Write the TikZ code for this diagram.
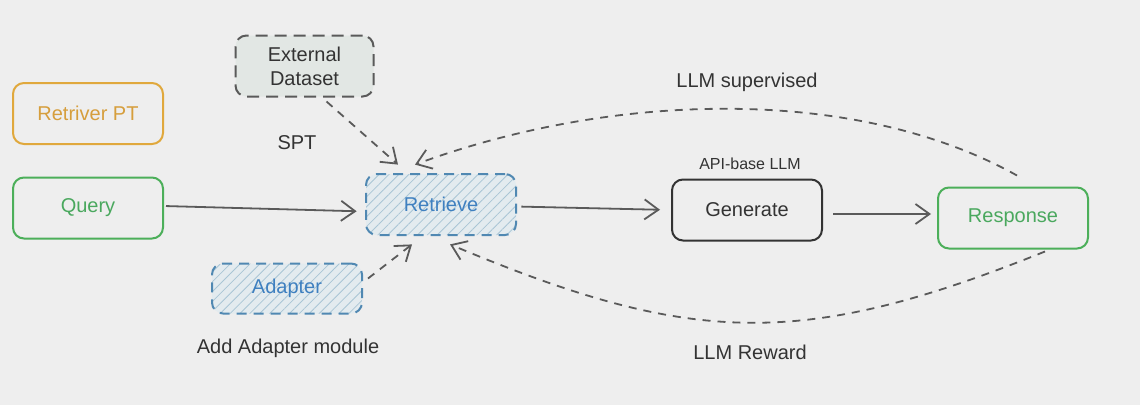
\documentclass[tikz,border=0pt]{standalone}
\usepackage{fontspec}
\setmainfont{Liberation Sans}
\usetikzlibrary{arrows.meta,patterns.meta,calc}
\definecolor{bgc}{HTML}{EEEEEE}
\definecolor{orangec}{HTML}{E0A83C}
\definecolor{orangetxt}{HTML}{D69E3C}
\definecolor{greenc}{HTML}{4CAF5A}
\definecolor{greentxt}{HTML}{4AA85E}
\definecolor{bluec}{HTML}{5088B2}
\definecolor{bluetxt}{HTML}{3F80C0}
\definecolor{hatchc}{HTML}{A9C5D5}
\definecolor{hatchbg}{HTML}{E3EBEF}
\definecolor{extfill}{HTML}{E2E7E4}
\definecolor{grayc}{HTML}{5A5A5A}
\definecolor{darkc}{HTML}{333333}
\tikzset{
  box/.style={rectangle, rounded corners=11pt, line width=2pt, minimum width=150pt, minimum height=61pt, font=\fontsize{20}{22}\selectfont, align=center, inner sep=2pt},
  hatched/.style={box, draw=bluec, dash pattern=on 10pt off 7pt, text=bluetxt,
    preaction={fill=hatchbg},
    pattern={Lines[angle=45,distance=7pt,line width=0.8pt]}, pattern color=hatchc},
  lbl/.style={font=\fontsize{20}{22}\selectfont, text=darkc, inner sep=0pt},
  arr/.style={draw=grayc, line width=1.8pt, -{Straight Barb[length=14pt,width=20pt,line width=1.8pt]}},
  darr/.style={arr, dash pattern=on 8pt off 7pt},
}
\begin{document}
\begin{tikzpicture}[x=1pt,y=-1pt]
\fill[bgc] (0,0) rectangle (1140,405);
\useasboundingbox (0,0) rectangle (1140,405);

\node[box, draw=orangec, text=orangetxt] (pt) at (88,113.5) {Retriver PT};
\node[box, draw=greenc, text=greentxt] (q) at (88,208) {Query};
\node[box, draw=grayc, fill=extfill, dash pattern=on 12pt off 7pt, text=darkc, minimum width=138pt, minimum height=61pt, font=\fontsize{20}{24}\selectfont] (ext) at (304.5,66) {External\\Dataset};
\node[hatched] (r) at (441,204.5) {Retrieve};
\node[hatched, minimum height=50pt] (ad) at (287,288.5) {Adapter};
\node[box, draw=darkc, text=darkc] (g) at (747,210) {Generate};
\node[box, draw=greenc, text=greentxt] (resp) at (1013,218) {Response};

\node[lbl] (spt) at (297,143) {SPT};
\node[lbl] (addl) at (288,348) {Add Adapter module};
\node[lbl, font=\fontsize{16}{18}\selectfont] (api) at (750,164) {API-base LLM};
\node[lbl] (sup) at (747,82) {LLM supervised};
\node[lbl] (rew) at (750,352) {LLM Reward};

\draw[arr, shorten <=2pt, shorten >=9pt] ([yshift=2pt]q.east) -- ([yshift=-7pt]r.west);
\draw[arr, shorten <=5pt, shorten >=11pt] ([yshift=-2pt]r.east) -- (g.west);
\draw[arr, shorten <=10pt, shorten >=6pt] ([yshift=-4pt]g.east) -- ([yshift=4pt]resp.west);
\draw[darr] ([xshift=22pt,yshift=-4pt]ext.south) -- ([xshift=-43pt,yshift=9pt]r.north);
\draw[darr] ([xshift=5pt,yshift=10pt]ad.east) -- ([xshift=-29pt,yshift=-9pt]r.south);
\draw[darr] ([xshift=4pt,yshift=11pt]resp.north) .. controls (857,86) and (615,91) .. ([xshift=-26pt,yshift=9pt]r.north);
\draw[darr] ([xshift=32pt,yshift=-2pt]resp.south) .. controls (800,350) and (690,345) .. ([xshift=9pt,yshift=-9pt]r.south);
\end{tikzpicture}
\end{document}
